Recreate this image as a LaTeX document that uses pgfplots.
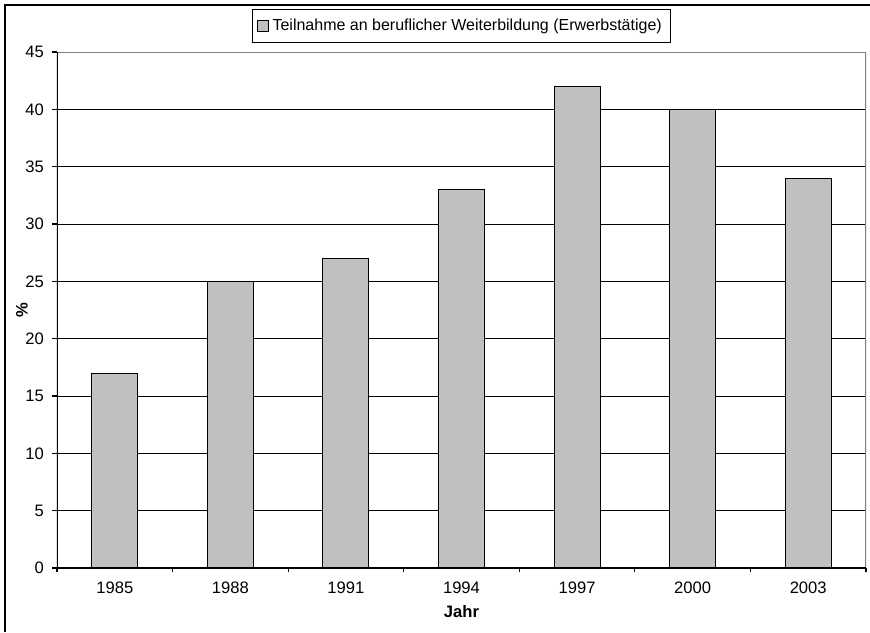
\documentclass[border=0pt]{standalone}
\usepackage{fontspec}
\setmainfont{Liberation Sans}
\usepackage{pgfplots}
\pgfplotsset{compat=1.18}
\definecolor{barfill}{HTML}{C0C0C0}
\definecolor{frameg}{HTML}{808080}
\begin{document}
\begin{tikzpicture}
\useasboundingbox (0,0) rectangle (435pt,316pt);
\begin{axis}[
  at={(28.5pt,32pt)}, anchor=south west,
  scale only axis, width=404.5pt, height=258pt,
  ymin=0, ymax=45, ytick={0,5,...,45},
  xmin=-0.5, xmax=6.5,
  xtick={0,1,2,3,4,5,6},
  xticklabels={1985,1988,1991,1994,1997,2000,2003},
  minor xtick={-0.5,0.5,1.5,2.5,3.5,4.5,5.5,6.5},
  major x tick style={draw=none},
  tick pos=left,
  tick align=outside,
  major tick length=2.5pt,
  minor tick length=2pt,
  tick style={black, line width=0.6pt},
  axis line style={draw=none},
  ymajorgrids,
  grid style={black, line width=0.5pt},
  /pgf/number format/assume math mode=true,
  tick label style={font=\fontsize{8.3}{9.5}\selectfont},
  xticklabel style={yshift=-1pt},
  yticklabel style={xshift=-0.5pt},
  ylabel={\textbf{\%}},
  xlabel={\textbf{Jahr}},
  label style={font=\fontsize{8.3}{9.5}\selectfont},
  ylabel style={at={(axis description cs:0,0.5)}, anchor=center, yshift=17.5pt},
  xlabel style={at={(axis description cs:0.5,0)}, anchor=center, yshift=-22pt},
  ybar, bar width=23pt,
  legend style={at={(0.5,1)}, anchor=south, yshift=4.5pt, draw=black,
    line width=0.6pt, font=\fontsize{8}{9.8}\selectfont, inner sep=2.5pt},
  legend image code/.code={\draw[black, line width=0.5pt, fill=barfill] (0pt,-2.6pt) rectangle (5.2pt,2.6pt);},
]
\addplot[fill=barfill, draw=black, line width=0.5pt] coordinates {
  (0,17) (1,25) (2,27) (3,33) (4,42) (5,40) (6,34)
};
\addlegendentry{Teilnahme an beruflicher Weiterbildung (Erwerbstätige)}
\draw[frameg, line width=0.6pt] (rel axis cs:0,1) -- (rel axis cs:1,1) -- (rel axis cs:1,0);
\draw[black, line width=0.7pt] (rel axis cs:0,1) -- (rel axis cs:0,0) -- (rel axis cs:1,0);
\end{axis}
\draw[black, line width=1.2pt] (2.5pt,0pt) -- (2.5pt,313.5pt) -- (435pt,313.5pt);
\end{tikzpicture}
\end{document}
